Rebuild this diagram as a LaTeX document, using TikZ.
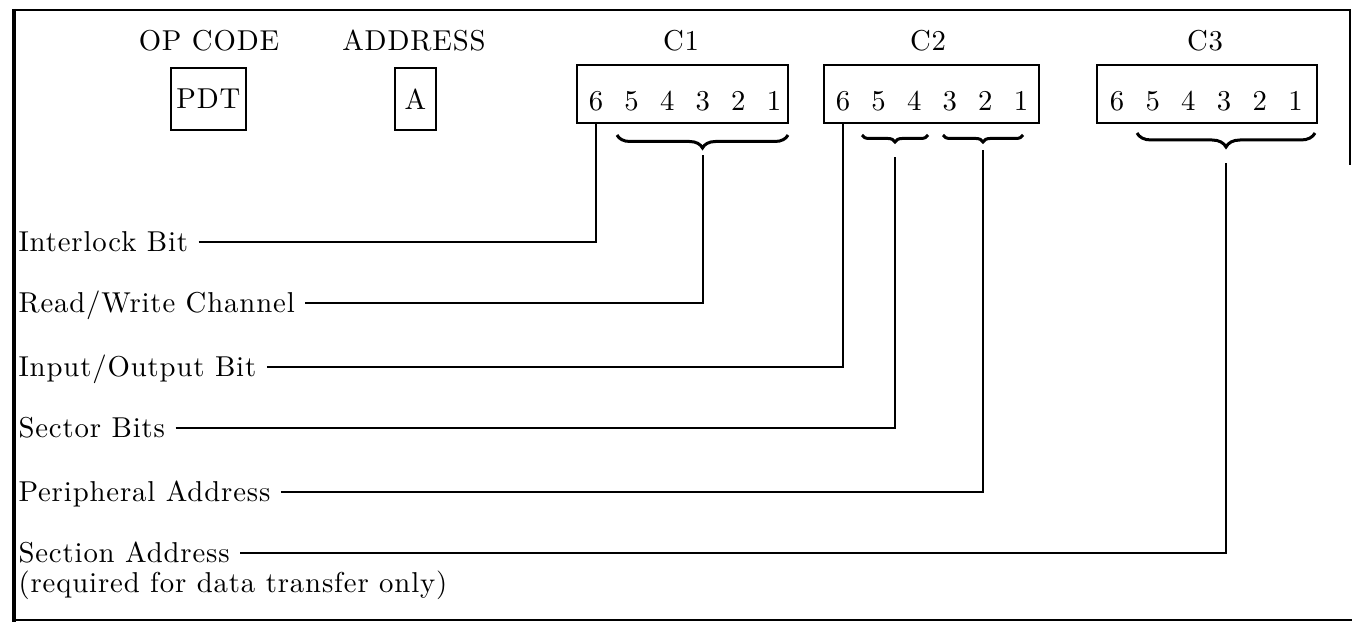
\documentclass[tikz,border=0pt]{standalone}
\usepackage{fontspec}
\setmainfont{lmroman10-regular.otf}[LetterSpace=3]
\usetikzlibrary{calc,positioning,decorations.pathreplacing}
\tikzset{
	fieldbox/.style={draw, line width=0.8pt, inner sep=0pt},
	bitlbl/.style={inner sep=0pt, anchor=base},
	namelbl/.style={anchor=west, inner xsep=4pt, inner ysep=2pt, text height=8pt, text depth=0pt},
	lead/.style={line width=0.8pt},
	bitbrace/.style={decorate, decoration={brace, mirror, amplitude=#1}, line width=1.2pt},
}

\begin{document}
\begin{tikzpicture}[x=40pt, y=40pt, font=\fontsize{11.5}{14}\selectfont]
		\useasboundingbox (0, 0) rectangle (13.52, 6.22);
		%%%%% FRAME %%%%%
		
		\draw[line width=1.6pt] (0.14, 6.13) -- (0.14, 0);
		\draw[line width=0.6pt] (0.13, 6.12) -- (13.50, 6.12) -- (13.50, 4.57);
		\draw[line width=0.6pt] (0.14, 0.02) -- (13.52, 0.02);
		
		%%%%% FIELDS %%%%%
		
		\node (opcode) at (2.09, 5.81) {OP CODE};
		\node (addrlbl) at (4.14, 5.81) {ADDRESS};
		\node[fieldbox, minimum width=30pt, minimum height=24.8pt] (pdt) at (2.085, 5.23) {PDT};
		\node[fieldbox, minimum width=16.4pt, minimum height=24.8pt] (addr) at (4.155, 5.23) {A};
		
		\node (c1lbl) at (6.81, 5.81) {C1};
		\node (c2lbl) at (9.28, 5.81) {C2};
		\node (c3lbl) at (12.05, 5.81) {C3};
		
		\node[fieldbox, minimum width=84.4pt, minimum height=23.2pt] (c1) at (6.825, 5.28) {};
		\node[fieldbox, minimum width=86pt, minimum height=23.2pt] (c2) at (9.315, 5.28) {};
		\node[fieldbox, minimum width=88pt, minimum height=23.2pt] (c3) at (12.07, 5.28) {};
		
		\foreach \d [count=\i from 0] in {6,5,4,3,2,1} {
			\node[bitlbl] (c1d\d) at (5.96+0.356*\i, 5.11) {\d};
			\node[bitlbl] (c2d\d) at (8.43+0.356*\i, 5.11) {\d};
			\node[bitlbl] (c3d\d) at (11.17+0.357*\i, 5.11) {\d};
		}
		
		\draw[bitbrace=5.2pt] (6.17, 4.87) -- (7.88, 4.87);
		\draw[bitbrace=2.8pt] (8.62, 4.87) -- (9.28, 4.87);
		\draw[bitbrace=2.8pt] (9.43, 4.87) -- (10.23, 4.87);
		\draw[bitbrace=5.6pt] (11.37, 4.89) -- (13.15, 4.89);
		
		\coordinate (c1tip) at (7.025, 4.67);
		\coordinate (c2atip) at (8.95, 4.65);
		\coordinate (c2btip) at (9.83, 4.72);
		\coordinate (c3tip) at (12.26, 4.59);
		
		%%%%% LABELS %%%%%
		
		\node[namelbl] (interlock) at (0.08, 3.80) {Interlock Bit};
		\node[namelbl] (rwchan) at (0.08, 3.19) {Read/Write Channel};
		\node[namelbl] (iobit) at (0.08, 2.55) {Input/Output Bit};
		\node[namelbl] (sector) at (0.08, 1.94) {Sector Bits};
		\node[namelbl] (periph) at (0.08, 1.30) {Peripheral Address};
		\node[namelbl] (section) at (0.08, 0.69) {Section Address};
		\node[namelbl] (sectnote) at (0.08, 0.39) {(required for data transfer only)};
		
		\draw[lead] (interlock.east) -| (c1d6 |- c1.south);
		\draw[lead] (rwchan.east) -| (c1tip);
		\draw[lead] (iobit.east) -| (c2d6 |- c2.south);
		\draw[lead] (sector.east) -| (c2atip);
		\draw[lead] (periph.east) -| (c2btip);
		\draw[lead] (section.east) -| (c3tip);
		
		%%%%% END %%%%%
	\end{tikzpicture}
\end{document}
